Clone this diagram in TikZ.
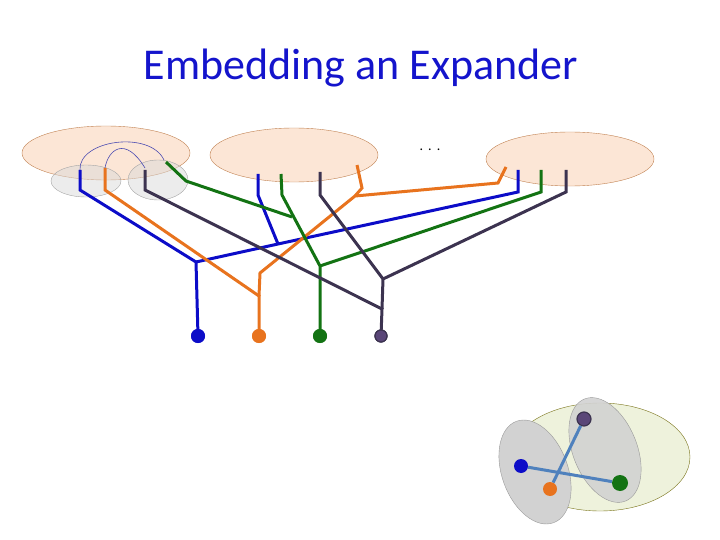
\documentclass[tikz,border=0pt]{standalone}
\usepackage{fontspec}
\setmainfont{Carlito}
\begin{document}
\begin{tikzpicture}[x=1pt,y=-1pt,
  wire/.style={line width=3pt, line join=miter},
  dot/.style={circle, fill=#1, inner sep=0pt, minimum size=14pt},
  arc/.style={draw=blue!40!gray, line width=0.6pt}]
\definecolor{cB}{HTML}{0C0CC8}
\definecolor{cO}{HTML}{E8731E}
\definecolor{cG}{HTML}{137313}
\definecolor{cD}{HTML}{3C3350}
\definecolor{cDf}{HTML}{5A4678}
\definecolor{peach}{HTML}{FCE6D6}
\definecolor{peachl}{HTML}{C08050}
\definecolor{lgreen}{HTML}{EEF2DC}
\definecolor{edgeb}{HTML}{4F81BD}
\definecolor{titleblue}{HTML}{1414CC}
\useasboundingbox (0,0) rectangle (720,540);
\node[text=titleblue] (title) at (361,68) {\fontsize{44}{50}\selectfont Embedding an Expander};
\node (dots) at (430,150) {\fontsize{14}{16}\selectfont .\hspace{5pt}.\hspace{5pt}.};
% big ellipses
\draw[draw=peachl, fill=peach] (106,153) ellipse [x radius=84, y radius=27];
\draw[draw=peachl, fill=peach] (294,155) ellipse [x radius=84, y radius=27];
\draw[draw=peachl, fill=peach] (570,159) ellipse [x radius=84, y radius=27];
\draw[draw=gray!70, fill=gray!30, fill opacity=0.5] (86,181) ellipse [x radius=35, y radius=16];
\draw[draw=gray!70, fill=gray!30, fill opacity=0.5] (158,180) ellipse [x radius=30, y radius=20];
\draw[arc] (80,170) .. controls (78,140) and (150,130) .. (164,160);
\draw[arc] (105,168) .. controls (108,150) and (125,135) .. (145,168);
% coordinates
\coordinate (b1) at (80,170); \coordinate (b2) at (258,174); \coordinate (b3) at (518,170);
\coordinate (o1) at (105,168); \coordinate (o2) at (357,165); \coordinate (o3) at (506,167);
\coordinate (g1) at (166,162); \coordinate (g2) at (281,174); \coordinate (g3) at (541,170);
\coordinate (d1) at (145,170); \coordinate (d2) at (320,172); \coordinate (d3) at (566,170);
\node[dot=cB] (DB) at (198,336) {};
\node[dot=cO] (DO) at (259,336) {};
\node[dot=cG] (DG) at (320,336) {};
\node[dot=cDf,draw=cD,line width=1.2pt,minimum size=12pt] (DD) at (381,336) {};
% blue
\draw[wire,cB] (b1) -- (80,190) -- (196,262) -- (DB.center);
\draw[wire,cB] (196,262) -- (278,244) -- (518,192) -- (b3);
\draw[wire,cB] (278,244) -- (258,195) -- (b2);
% orange
\draw[wire,cO] (o1) -- (105,190) -- (259,296) -- (DO.center);
\draw[wire,cO] (259,296) -- (260,273) -- (355,196) -- (498,183) -- (o3);
\draw[wire,cO] (355,196) -- (362,188) -- (o2);
% green
\draw[wire,cG] (g1) -- (186,181) -- (292,217);
\draw[wire,cG] (g2) -- (282,195) -- (320,266) -- (DG.center);
\draw[wire,cG] (320,266) -- (541,192) -- (g3);
% dark
\draw[wire,cD] (d1) -- (145,190) -- (382,309) -- (DD.center);
\draw[wire,cD] (382,309) -- (383,279) -- (320,195) -- (d2);
\draw[wire,cD] (383,279) -- (566,192) -- (d3);
\node[dot=cB] at (DB) {};
\node[dot=cO] at (DO) {};
\node[dot=cG] at (DG) {};
\node[dot=cDf,draw=cD,line width=1.2pt,minimum size=12pt] at (DD) {};
% bottom right
\draw[draw=olive!80!black, fill=lgreen] (600,457) ellipse [x radius=90, y radius=54];
\draw[draw=gray!80, fill=gray!35] (535,472) [rotate around={20:(535,472)}] ellipse [x radius=33, y radius=54];
\draw[draw=gray!80, fill=gray!35, fill opacity=0.9] (605,450) [rotate around={22:(605,450)}] ellipse [x radius=32, y radius=55];
\node[dot=cDf,draw=cD,line width=1.2pt,minimum size=14pt] (eD) at (584,419) {};
\node[dot=cB] (eB) at (521,466) {};
\node[dot=cO] (eO) at (550,489) {};
\node[dot=cG,minimum size=16pt] (eG) at (620,483) {};
\draw[edgeb, line width=3pt] (eD) -- (eO);
\draw[edgeb, line width=3pt] (eB) -- (eG);
\end{tikzpicture}
\end{document}
